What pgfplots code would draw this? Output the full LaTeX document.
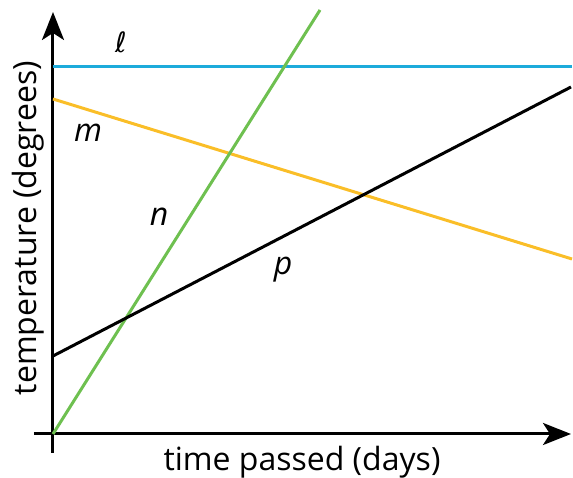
\documentclass[border=0pt]{standalone}
\usepackage{pgfplots}
\pgfplotsset{compat=1.18}
\usepackage{fontspec}
\setmainfont{Open Sans}
\newfontfamily\dejavu{DejaVu Sans}
\usetikzlibrary{arrows.meta}
\definecolor{lcyan}{RGB}{29,171,219}
\definecolor{lorange}{RGB}{250,190,40}
\definecolor{lgreen}{RGB}{110,192,80}
\begin{document}
\begin{tikzpicture}
\begin{axis}[
  at={(0,0)}, anchor=origin,
  x=1pt, y=1pt,
  xmin=-19, xmax=518, ymin=-19, ymax=422,
  axis lines=middle,
  axis line style={line width=3pt, -{Stealth[length=28pt,width=22pt,inset=7pt]}},
  xtick=\empty, ytick=\empty,
  clip=false,
  every axis plot/.append style={line width=3pt},
]
\addplot[lcyan] coordinates {(0,367) (519,367)};
\addplot[lorange] coordinates {(0,335) (519,175)};
\addplot[lgreen] coordinates {(0,0) (267,424)};
\addplot[black] coordinates {(0,78) (518,347)};
\node[font=\fontsize{32}{38}\selectfont] at (axis cs:249,-28) {time passed (days)};
\node[font=\fontsize{32}{38}\selectfont, rotate=90] at (axis cs:-25,206) {temperature (degrees)};
\node[font=\dejavu\fontsize{28}{32}\selectfont] at (axis cs:68,392) {ℓ};
\node[font=\itshape\fontsize{32}{38}\selectfont] at (axis cs:35,301) {m};
\node[font=\itshape\fontsize{32}{38}\selectfont] at (axis cs:106,217) {n};
\node[font=\itshape\fontsize{32}{38}\selectfont] at (axis cs:230,164) {p};
\end{axis}
\pgfresetboundingbox
\path (-53pt,-44pt) rectangle (520pt,434pt);
\end{tikzpicture}
\end{document}
